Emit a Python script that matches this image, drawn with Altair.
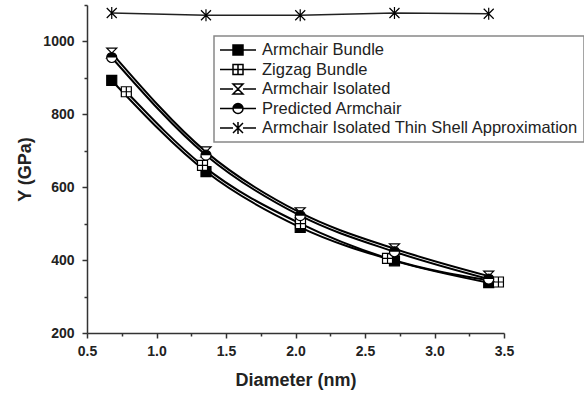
import altair as alt
import pandas as pd
import math

# ---------------- data ----------------
ARMCHAIR_D = [0.678, 1.356, 2.034, 2.712, 3.390]
ZIGZAG_D = [0.783, 1.331, 2.036, 2.662, 3.46]

armchair_bundle = [893, 643, 490, 398, 338]
zigzag_bundle = [862, 660, 500, 405, 340]
armchair_isolated = [968, 697, 530, 431, 356]
predicted_armchair = [956, 688, 522, 423, 348]
thin_shell = [1078, 1072, 1072, 1078, 1076]

SERIES = [
    "Armchair Bundle",
    "Zigzag Bundle",
    "Armchair Isolated",
    "Predicted Armchair",
    "Armchair Isolated Thin Shell Approximation",
]
X_TICKS = [0.5, 1.0, 1.5, 2.0, 2.5, 3.0, 3.5]
X_MINOR = [0.75, 1.25, 1.75, 2.25, 2.75, 3.25]
Y_TICKS = [200, 400, 600, 800, 1000]
Y_MINOR = [300, 500, 700, 900, 1100]

rows = []
for name, xs, ys in [
    (SERIES[0], ARMCHAIR_D, armchair_bundle),
    (SERIES[1], ZIGZAG_D, zigzag_bundle),
    (SERIES[2], ARMCHAIR_D, armchair_isolated),
    (SERIES[3], ARMCHAIR_D, predicted_armchair),
    (SERIES[4], ARMCHAIR_D, thin_shell),
]:
    for x, y in zip(xs, ys):
        rows.append({"series": name, "d": x, "Y": y})
df = pd.DataFrame(rows)

# ---------------- styling ----------------
FONT = "Liberation Sans"
X_DOM = [0.5, 3.5]
Y_DOM = [200, 1100]

# plot marker shapes
SQ = "M-1,-1H1V1H-1Z"
ZZ = "M-1,-1H1V1H-1Z M0,-1V1 M-1,0H1"
HG = "M-1,-1H1L-1,1H1Z"
AST = "M-1,-1L1,1M1,-1L-1,1M0,-1.2V1.2"
HALF = "M-1,0A1,1 0 0 1 1,0Z"


def f(v):
    return f"{v:.3f}"


# legend symbol paths: unit = 8 px (symbolSize 256); path spans x -1 .. 3.5
m = 0.625   # marker half size
c = 1.25    # marker centre
stub = f"M-1,0H{f(c - m)}M{f(c + m)},0H3.5"
sq_out = f"M{f(c - m)},{f(-m)}H{f(c + m)}V{f(m)}H{f(c - m)}Z"
hatch_sq = "".join(
    f"M{f(c - m)},{f(-m + i * 0.125)}H{f(c + m)}" for i in range(int(2 * m / 0.125) + 1)
)
hatch_half = ""
yy = -m
while yy <= 0.001:
    w = math.sqrt(max(m * m - yy * yy, 0))
    hatch_half += f"M{f(c - w)},{f(yy)}H{f(c + w)}"
    yy += 0.11
circ = (f"M{f(c - m)},0A{f(m)},{f(m)} 0 1 1 {f(c + m)},0"
        f"A{f(m)},{f(m)} 0 1 1 {f(c - m)},0")

LEG_SHAPES = [
    stub + sq_out + hatch_sq,
    stub + sq_out + f"M{f(c)},{f(-m)}V{f(m)}M{f(c - m)},0H{f(c + m)}",
    stub + f"M{f(c - m)},{f(-m)}H{f(c + m)}L{f(c - m)},{f(m)}H{f(c + m)}Z",
    stub + circ + hatch_half,
    stub + (f"M{f(c - m)},{f(-m)}L{f(c + m)},{f(m)}M{f(c + m)},{f(-m)}L{f(c - m)},{f(m)}"
            f"M{f(c)},{f(-m * 1.2)}V{f(m * 1.2)}"),
]

xscale = alt.Scale(domain=X_DOM, nice=False, zero=False)
yscale = alt.Scale(domain=Y_DOM, nice=False, zero=False)

x_axis = alt.Axis(
    values=X_TICKS, format=".1f", title="Diameter (nm)", grid=False, orient="bottom",
    labelFont=FONT, labelFontSize=14, labelFontWeight="bold", labelColor="#222",
    titleFont=FONT, titleFontSize=18, titleFontWeight="bold", titleColor="#222",
    domainColor="#333", domainWidth=1.5, tickColor="#333", tickWidth=1.5,
    tickSize=5, labelPadding=6, titlePadding=13, labelFlush=False,
)
y_axis = alt.Axis(
    values=Y_TICKS, format="d", title="Y (GPa)", grid=False, orient="left",
    labelFont=FONT, labelFontSize=14, labelFontWeight="bold", labelColor="#222",
    titleFont=FONT, titleFontSize=18, titleFontWeight="bold", titleColor="#222",
    domainColor="#333", domainWidth=1.5, tickColor="#333", tickWidth=1.5,
    tickSize=5, labelPadding=8, titlePadding=8, labelFlush=False,
)

base = alt.Chart(df)

curves = base.transform_filter(
    alt.datum.series != SERIES[4]
).mark_line(interpolate="monotone", color="black", strokeWidth=2).encode(
    x=alt.X("d:Q", scale=xscale, axis=x_axis),
    y=alt.Y("Y:Q", scale=yscale, axis=y_axis),
    detail="series:N",
)

thin_line = base.transform_filter(
    alt.datum.series == SERIES[4]
).mark_line(color="#222", strokeWidth=1.5).encode(
    x=alt.X("d:Q", scale=xscale, axis=None),
    y=alt.Y("Y:Q", scale=yscale, axis=None),
)

points = base.mark_point(filled=True, size=100, stroke="black", strokeWidth=1.2, opacity=1).encode(
    x=alt.X("d:Q", scale=xscale, axis=None),
    y=alt.Y("Y:Q", scale=yscale, axis=None),
    shape=alt.Shape("series:N", scale=alt.Scale(domain=SERIES, range=[SQ, ZZ, HG, "circle", AST]), legend=None),
    fill=alt.Fill("series:N", scale=alt.Scale(domain=SERIES, range=["black", "white", "white", "white", "white"]), legend=None),
)

half = base.transform_filter(
    alt.datum.series == SERIES[3]
).mark_point(filled=True, size=100, shape=HALF, color="black", opacity=1).encode(
    x=alt.X("d:Q", scale=xscale, axis=None),
    y=alt.Y("Y:Q", scale=yscale, axis=None),
)

legend_layer = base.mark_point(filled=False, opacity=0, color="black").encode(
    x=alt.X("d:Q", scale=xscale, axis=None),
    y=alt.Y("Y:Q", scale=yscale, axis=None),
    shape=alt.Shape(
        "series:N",
        scale=alt.Scale(domain=SERIES, range=LEG_SHAPES),
        legend=alt.Legend(
            title=None, orient="none", legendX=127, legendY=31,
            labelFont=FONT, labelFontSize=16.5, labelColor="#222", labelLimit=500,
            labelOffset=25, symbolSize=256, symbolStrokeWidth=1.5,
            symbolStrokeColor="black", symbolOpacity=1,
            padding=5, rowPadding=1.5,
            strokeColor="#888", fillColor="white",
        ),
    ),
)

minor_x = alt.Chart(pd.DataFrame({"d": X_MINOR})).mark_point(opacity=0).encode(
    x=alt.X("d:Q", scale=xscale, axis=alt.Axis(values=X_MINOR, labels=False, domain=False, grid=False,
                                                orient="bottom", tickSize=3, tickWidth=1.5,
                                                tickColor="#333", title=None)),
)
minor_y = alt.Chart(pd.DataFrame({"Y": Y_MINOR})).mark_point(opacity=0).encode(
    y=alt.Y("Y:Q", scale=yscale, axis=alt.Axis(values=Y_MINOR, labels=False, domain=False, grid=False,
                                                orient="left", tickSize=3, tickWidth=1.5,
                                                tickColor="#333", title=None)),
)

chart = alt.layer(
    curves, thin_line, points, half, legend_layer, minor_x, minor_y
).resolve_scale(shape="independent").resolve_axis(x="independent", y="independent").properties(
    width=417, height=328,
    autosize=alt.AutoSizeParams(type="none"),
    padding={"left": 87, "top": 5, "right": 80, "bottom": 60},
    background="white",
).configure_view(stroke=None).configure_legend(strokeWidth=1.5)

chart.save("out.html", embed_options={"renderer": "svg", "actions": False})
